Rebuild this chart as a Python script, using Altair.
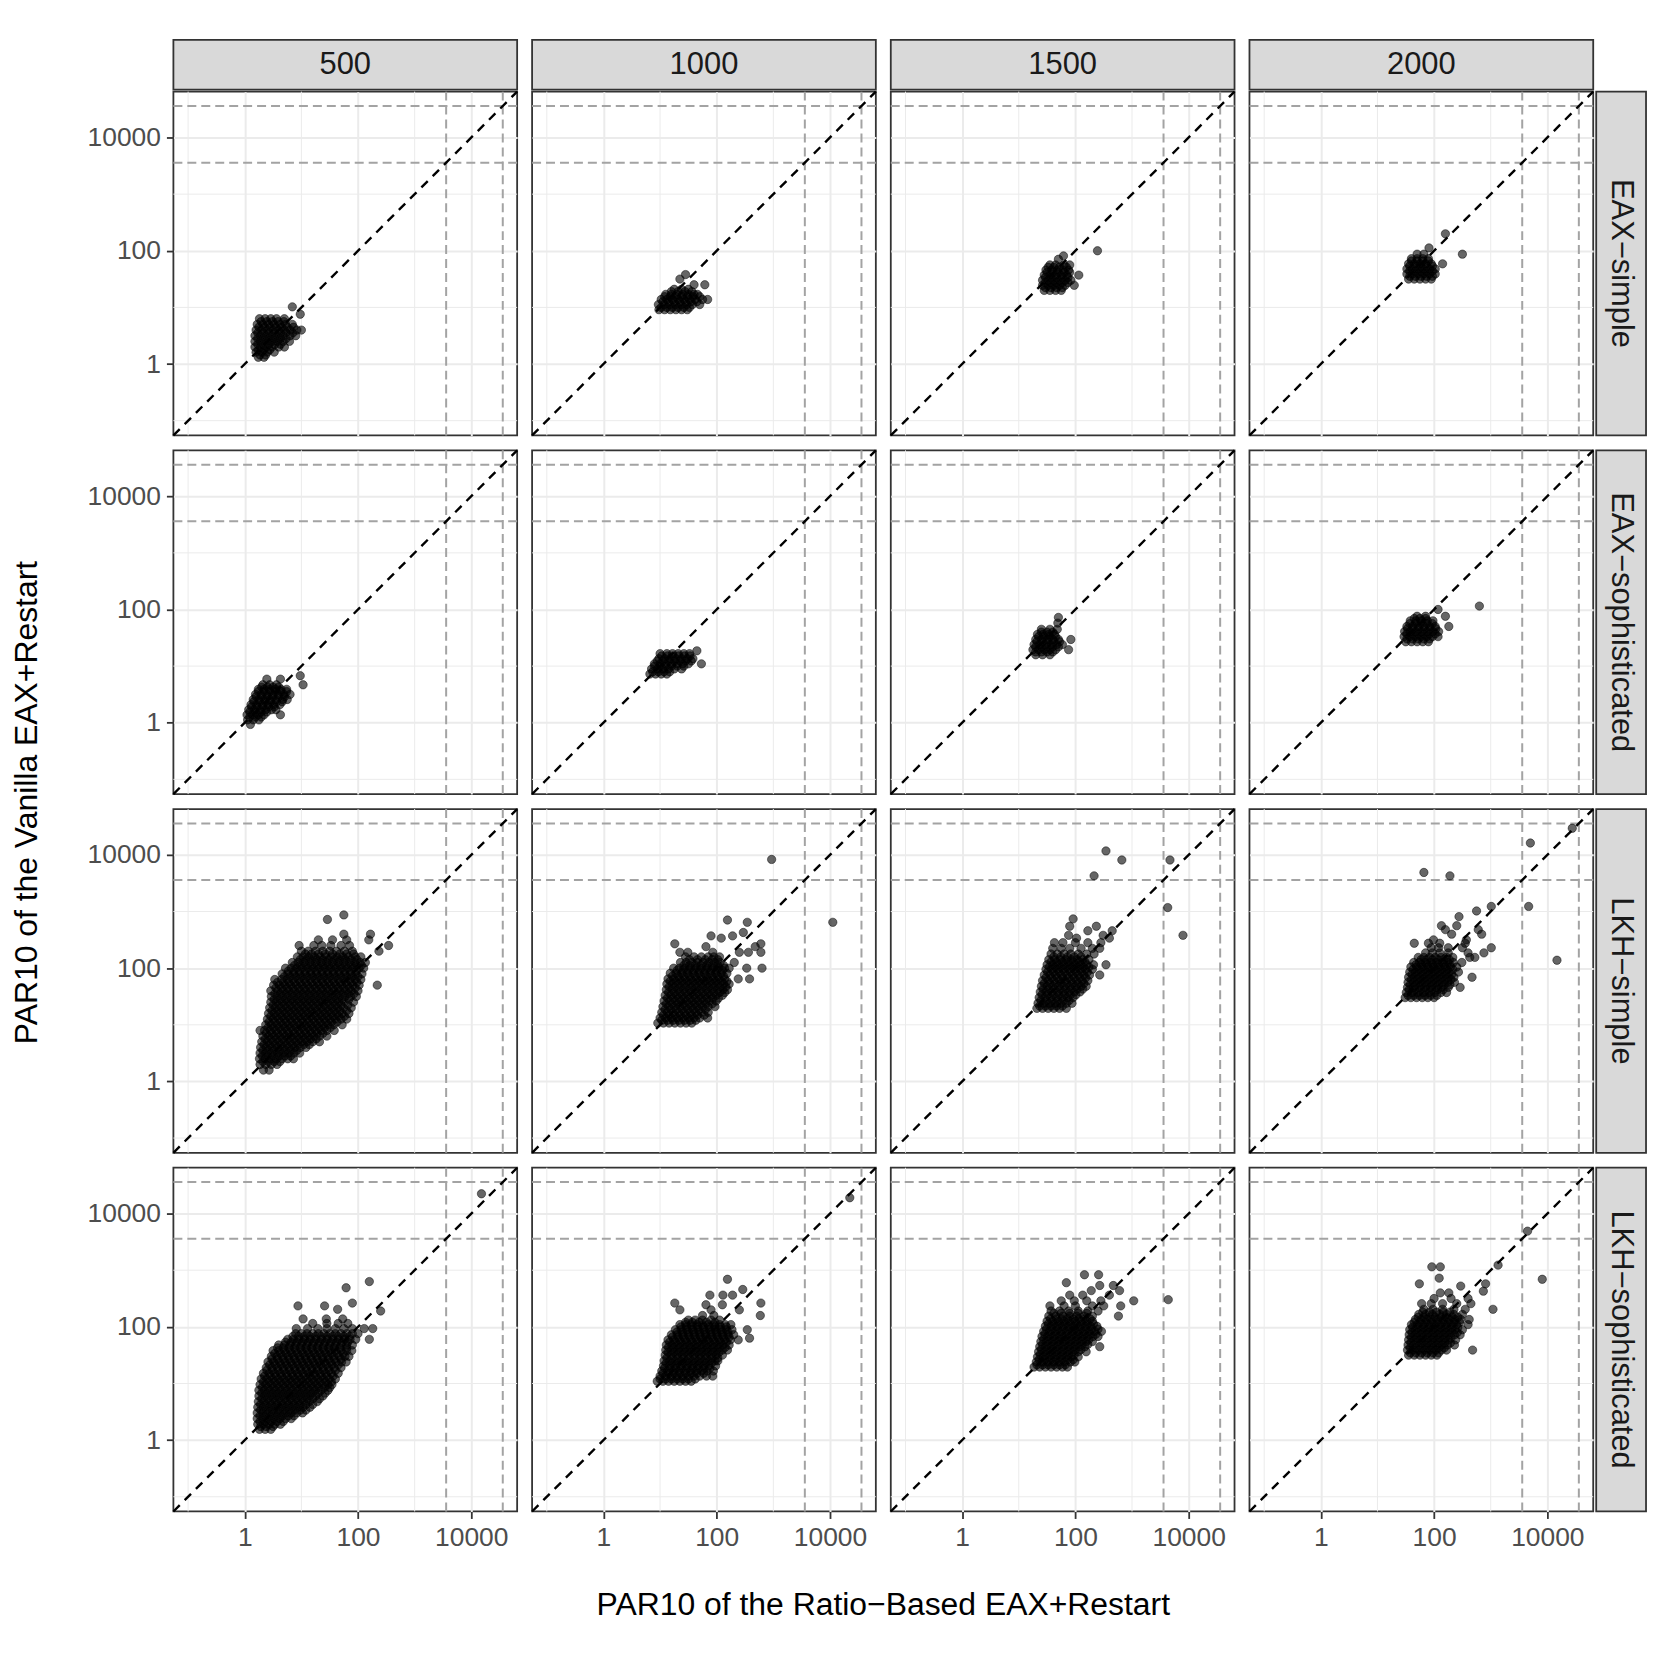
import altair as alt
import pandas as pd

FONT = "Liberation Sans"
SIZES = ["500", "1000", "1500", "2000"]
SOLVERS = ["EAX−simple", "EAX−sophisticated", "LKH−simple", "LKH−sophisticated"]
MAJOR_BREAKS = [1, 100, 10000]
MINOR_BREAKS = [0.1, 10, 1000]
CUTOFFS = [3600, 36000]
LOG_LIMITS = [-1.26, 4.81]
X_TITLE = "PAR10 of the Ratio−Based EAX+Restart"
Y_TITLE = "PAR10 of the Vanilla EAX+Restart"

# Point clouds: (log10 vanilla PAR10, [log10 ratio-based PAR10, ...])
eax_simple_500 = [
    (0.12, [0.24, 0.34]),
    (0.21, [0.2, 0.3, 0.4, 0.52]),
    (0.3, [0.18, 0.28, 0.38, 0.48, 0.6, 0.7]),
    (0.4, [0.18, 0.28, 0.38, 0.48, 0.58, 0.68, 0.79]),
    (0.5, [0.18, 0.28, 0.38, 0.48, 0.58, 0.68, 0.8, 0.9]),
    (0.6, [0.2, 0.3, 0.4, 0.5, 0.6, 0.7, 0.8, 0.92, 1.0]),
    (0.7, [0.22, 0.32, 0.42, 0.52, 0.62, 0.72, 0.84]),
    (0.8, [0.26, 0.36, 0.46, 0.56, 0.7]),
    (0.88, [0.98]),
    (1.01, [0.84]),
    (0.16, [0.27, 0.37]),
    (0.25, [0.24, 0.34, 0.44]),
    (0.35, [0.23, 0.33, 0.43, 0.53, 0.63]),
    (0.45, [0.23, 0.33, 0.43, 0.53, 0.63, 0.73]),
    (0.55, [0.23, 0.33, 0.43, 0.53, 0.63, 0.73, 0.85]),
    (0.65, [0.25, 0.35, 0.45, 0.55, 0.65, 0.75, 0.86]),
    (0.75, [0.29, 0.39, 0.49, 0.59, 0.69]),
]
eax_simple_1000 = [
    (0.96, [0.98, 1.08, 1.18, 1.28, 1.38, 1.48]),
    (1.05, [0.97, 1.07, 1.17, 1.27, 1.37, 1.47, 1.57, 1.7]),
    (1.14, [1.02, 1.12, 1.22, 1.32, 1.42, 1.52, 1.62, 1.75, 1.84]),
    (1.23, [1.1, 1.2, 1.3, 1.4, 1.5, 1.6, 1.66]),
    (1.32, [1.25, 1.38, 1.5]),
    (1.4, [1.6, 1.79]),
    (1.5, [1.35]),
    (1.58, [1.45]),
    (1.0, [1.02, 1.12, 1.22, 1.32, 1.42, 1.52]),
    (1.1, [1.05, 1.15, 1.25, 1.35, 1.45, 1.55, 1.65]),
    (1.19, [1.08, 1.18, 1.28, 1.38, 1.48, 1.58, 1.7]),
    (1.28, [1.2, 1.32, 1.44, 1.56]),
]
eax_simple_1500 = [
    (1.3, [1.45, 1.55, 1.65, 1.75]),
    (1.39, [1.42, 1.52, 1.62, 1.72, 1.82, 1.98]),
    (1.48, [1.42, 1.52, 1.62, 1.72, 1.82, 1.92]),
    (1.57, [1.45, 1.55, 1.65, 1.75, 1.85, 2.06]),
    (1.66, [1.48, 1.58, 1.68, 1.78, 1.88]),
    (1.75, [1.55, 1.65, 1.8, 1.9]),
    (1.85, [1.7]),
    (1.91, [1.79]),
    (2.0, [2.39]),
    (1.35, [1.47, 1.57, 1.67, 1.77]),
    (1.44, [1.47, 1.57, 1.67, 1.77, 1.87]),
    (1.53, [1.47, 1.57, 1.67, 1.77, 1.87]),
    (1.62, [1.5, 1.6, 1.7, 1.8, 1.9]),
    (1.71, [1.52, 1.62, 1.72, 1.84]),
]
eax_simple_2000 = [
    (1.5, [1.55, 1.65, 1.75, 1.85, 1.95]),
    (1.59, [1.52, 1.62, 1.72, 1.82, 1.92, 2.02]),
    (1.68, [1.52, 1.62, 1.72, 1.82, 1.92, 2.02]),
    (1.77, [1.55, 1.65, 1.75, 1.85, 1.95, 2.15]),
    (1.86, [1.6, 1.7, 1.8, 1.9]),
    (1.94, [1.7, 1.82, 2.5]),
    (2.05, [1.91]),
    (2.3, [2.2]),
    (1.55, [1.57, 1.67, 1.77, 1.87, 1.97]),
    (1.64, [1.57, 1.67, 1.77, 1.87, 1.97]),
    (1.73, [1.57, 1.67, 1.77, 1.87, 1.97]),
    (1.82, [1.6, 1.7, 1.8, 1.9]),
]
eax_soph_500 = [
    (-0.03, [0.1]),
    (0.05, [0.05, 0.15, 0.25]),
    (0.14, [0.04, 0.14, 0.24, 0.34, 0.63]),
    (0.23, [0.07, 0.17, 0.27, 0.37, 0.47, 0.55]),
    (0.32, [0.11, 0.21, 0.31, 0.41, 0.51, 0.62]),
    (0.41, [0.15, 0.25, 0.35, 0.45, 0.55, 0.67, 0.75]),
    (0.5, [0.19, 0.29, 0.39, 0.49, 0.59, 0.69, 0.8]),
    (0.59, [0.24, 0.34, 0.44, 0.54, 0.64, 0.74]),
    (0.67, [0.32, 0.44, 0.56, 1.03]),
    (0.77, [0.39, 0.63]),
    (0.83, [0.98]),
    (0.1, [0.09, 0.19, 0.29]),
    (0.19, [0.09, 0.19, 0.29, 0.39]),
    (0.28, [0.12, 0.22, 0.32, 0.42, 0.52]),
    (0.37, [0.16, 0.26, 0.36, 0.46, 0.56, 0.66]),
    (0.46, [0.2, 0.3, 0.4, 0.5, 0.6, 0.7]),
    (0.55, [0.24, 0.34, 0.44, 0.54, 0.64, 0.74]),
    (0.63, [0.3, 0.4, 0.5, 0.6]),
]
eax_soph_1000 = [
    (0.86, [0.82, 0.92, 1.02, 1.12]),
    (0.95, [0.85, 0.95, 1.05, 1.15, 1.25, 1.38]),
    (1.04, [0.9, 1.0, 1.1, 1.2, 1.3, 1.4, 1.5, 1.73]),
    (1.13, [0.98, 1.08, 1.18, 1.28, 1.38, 1.48, 1.58]),
    (1.22, [1.0, 1.12, 1.22, 1.32, 1.42, 1.52]),
    (1.27, [1.65]),
    (0.9, [0.87, 0.97, 1.07, 1.17]),
    (1.0, [0.9, 1.0, 1.1, 1.2, 1.3, 1.42]),
    (1.09, [0.95, 1.05, 1.15, 1.25, 1.35, 1.45, 1.55]),
    (1.18, [1.03, 1.13, 1.23, 1.33, 1.43, 1.53]),
]
eax_soph_1500 = [
    (1.2, [1.3, 1.42, 1.55]),
    (1.29, [1.25, 1.35, 1.45, 1.55, 1.65, 1.88]),
    (1.38, [1.27, 1.37, 1.47, 1.57, 1.67, 1.77]),
    (1.47, [1.3, 1.4, 1.5, 1.6, 1.7, 1.92]),
    (1.56, [1.33, 1.43, 1.53, 1.63]),
    (1.65, [1.4, 1.55, 1.68]),
    (1.76, [1.69]),
    (1.86, [1.7]),
    (1.25, [1.3, 1.4, 1.5, 1.6]),
    (1.34, [1.3, 1.4, 1.5, 1.6, 1.7]),
    (1.43, [1.32, 1.42, 1.52, 1.62, 1.72]),
    (1.52, [1.35, 1.45, 1.55, 1.65]),
    (1.6, [1.4, 1.5, 1.6]),
]
eax_soph_2000 = [
    (1.43, [1.5, 1.6, 1.7, 1.8, 1.9]),
    (1.52, [1.47, 1.57, 1.67, 1.77, 1.87, 1.97, 2.07]),
    (1.61, [1.48, 1.58, 1.68, 1.78, 1.88, 1.98, 2.08]),
    (1.7, [1.52, 1.62, 1.72, 1.82, 1.92, 2.02, 2.26]),
    (1.8, [1.58, 1.68, 1.78, 1.88, 1.98]),
    (1.88, [1.7, 1.85, 2.2]),
    (2.0, [2.07]),
    (2.06, [2.8]),
    (1.48, [1.52, 1.62, 1.72, 1.82, 1.92]),
    (1.57, [1.52, 1.62, 1.72, 1.82, 1.92, 2.02]),
    (1.66, [1.53, 1.63, 1.73, 1.83, 1.93, 2.03]),
    (1.75, [1.57, 1.67, 1.77, 1.87, 1.97]),
    (1.84, [1.65, 1.75, 1.85]),
]
lkh_simple_500 = [
    (0.2, [0.33, 0.43]),
    (0.3, [0.27, 0.37, 0.47, 0.57]),
    (0.4, [0.26, 0.36, 0.46, 0.56, 0.66, 0.76, 0.86]),
    (0.5, [0.27, 0.37, 0.47, 0.57, 0.67, 0.77, 0.87, 0.97]),
    (0.6, [0.28, 0.38, 0.48, 0.58, 0.68, 0.78, 0.88, 0.98, 1.08]),
    (0.7, [0.3, 0.4, 0.5, 0.6, 0.7, 0.8, 0.9, 1.0, 1.1, 1.2, 1.32]),
    (0.8, [0.32, 0.42, 0.52, 0.62, 0.72, 0.82, 0.92, 1.02, 1.12, 1.22, 1.32, 1.45]),
    (0.9, [0.27, 0.35, 0.45, 0.55, 0.65, 0.75, 0.85, 0.95, 1.05, 1.15, 1.25, 1.35, 1.45, 1.58]),
    (1.0, [0.37, 0.47, 0.57, 0.67, 0.77, 0.87, 0.97, 1.07, 1.17, 1.27, 1.37, 1.47, 1.57, 1.72]),
    (1.1, [0.4, 0.5, 0.6, 0.7, 0.8, 0.9, 1.0, 1.1, 1.2, 1.3, 1.4, 1.5, 1.6, 1.7, 1.8]),
    (1.2, [0.42, 0.52, 0.62, 0.72, 0.82, 0.92, 1.02, 1.12, 1.22, 1.32, 1.42, 1.52, 1.62, 1.72, 1.84]),
    (1.3, [0.44, 0.54, 0.64, 0.74, 0.84, 0.94, 1.04, 1.14, 1.24, 1.34, 1.44, 1.54, 1.64, 1.74, 1.88]),
    (1.4, [0.46, 0.56, 0.66, 0.76, 0.86, 0.96, 1.06, 1.16, 1.26, 1.36, 1.46, 1.56, 1.66, 1.76, 1.92]),
    (1.5, [0.47, 0.57, 0.67, 0.77, 0.87, 0.97, 1.07, 1.17, 1.27, 1.37, 1.47, 1.57, 1.67, 1.77, 1.87, 1.97]),
    (1.6, [0.46, 0.58, 0.68, 0.78, 0.88, 0.98, 1.08, 1.18, 1.28, 1.38, 1.48, 1.58, 1.68, 1.78, 1.88, 2.0]),
    (1.7, [0.51, 0.61, 0.71, 0.81, 0.91, 1.01, 1.11, 1.21, 1.31, 1.41, 1.51, 1.61, 1.71, 1.81, 1.91, 2.02, 2.34]),
    (1.8, [0.53, 0.65, 0.75, 0.85, 0.95, 1.05, 1.15, 1.25, 1.35, 1.45, 1.55, 1.65, 1.75, 1.85, 1.95, 2.05]),
    (1.9, [0.66, 0.76, 0.86, 0.96, 1.06, 1.16, 1.26, 1.36, 1.46, 1.56, 1.66, 1.76, 1.86, 1.96, 2.07]),
    (2.0, [0.72, 0.82, 0.92, 1.02, 1.12, 1.22, 1.32, 1.42, 1.52, 1.62, 1.72, 1.82, 1.92, 2.02, 2.1]),
    (2.1, [0.84, 0.94, 1.04, 1.14, 1.24, 1.34, 1.44, 1.54, 1.64, 1.74, 1.84, 1.94, 2.04, 2.13]),
    (2.2, [0.93, 1.03, 1.13, 1.23, 1.33, 1.43, 1.53, 1.63, 1.73, 1.83, 1.95, 2.05]),
    (2.3, [1.0, 1.12, 1.25, 1.38, 1.5, 1.62, 1.76, 1.9, 2.37]),
    (2.4, [0.96, 1.22, 1.36, 1.52, 1.7, 1.85, 2.54]),
    (2.5, [1.3, 1.55, 1.8, 2.19]),
    (2.6, [1.75, 2.22]),
    (2.86, [1.46]),
    (2.94, [1.75]),
    (0.35, [0.32, 0.42, 0.52, 0.62]),
    (0.45, [0.31, 0.41, 0.51, 0.61, 0.71, 0.81]),
    (0.55, [0.32, 0.42, 0.52, 0.62, 0.72, 0.82, 0.92]),
    (0.65, [0.34, 0.44, 0.54, 0.64, 0.74, 0.84, 0.94, 1.04, 1.14]),
    (0.75, [0.36, 0.46, 0.56, 0.66, 0.76, 0.86, 0.96, 1.06, 1.16, 1.26]),
    (0.85, [0.38, 0.48, 0.58, 0.68, 0.78, 0.88, 0.98, 1.08, 1.18, 1.28, 1.38]),
    (0.95, [0.41, 0.51, 0.61, 0.71, 0.81, 0.91, 1.01, 1.11, 1.21, 1.31, 1.41, 1.51]),
    (1.05, [0.43, 0.53, 0.63, 0.73, 0.83, 0.93, 1.03, 1.13, 1.23, 1.33, 1.43, 1.53, 1.63]),
    (1.15, [0.46, 0.56, 0.66, 0.76, 0.86, 0.96, 1.06, 1.16, 1.26, 1.36, 1.46, 1.56, 1.66, 1.76]),
    (1.25, [0.48, 0.58, 0.68, 0.78, 0.88, 0.98, 1.08, 1.18, 1.28, 1.38, 1.48, 1.58, 1.68, 1.8]),
    (1.35, [0.5, 0.6, 0.7, 0.8, 0.9, 1.0, 1.1, 1.2, 1.3, 1.4, 1.5, 1.6, 1.7, 1.82]),
    (1.45, [0.52, 0.62, 0.72, 0.82, 0.92, 1.02, 1.12, 1.22, 1.32, 1.42, 1.52, 1.62, 1.72, 1.84]),
    (1.55, [0.53, 0.63, 0.73, 0.83, 0.93, 1.03, 1.13, 1.23, 1.33, 1.43, 1.53, 1.63, 1.73, 1.83, 1.93]),
    (1.65, [0.55, 0.65, 0.75, 0.85, 0.95, 1.05, 1.15, 1.25, 1.35, 1.45, 1.55, 1.65, 1.75, 1.85, 1.95]),
    (1.75, [0.58, 0.68, 0.78, 0.88, 0.98, 1.08, 1.18, 1.28, 1.38, 1.48, 1.58, 1.68, 1.78, 1.88, 1.98]),
    (1.85, [0.7, 0.8, 0.9, 1.0, 1.1, 1.2, 1.3, 1.4, 1.5, 1.6, 1.7, 1.8, 1.9, 2.0]),
    (1.95, [0.77, 0.87, 0.97, 1.07, 1.17, 1.27, 1.37, 1.47, 1.57, 1.67, 1.77, 1.87, 1.97]),
    (2.05, [0.88, 0.98, 1.08, 1.18, 1.28, 1.38, 1.48, 1.58, 1.68, 1.78, 1.88, 1.98, 2.06]),
    (2.15, [0.98, 1.08, 1.18, 1.28, 1.38, 1.48, 1.58, 1.68, 1.78, 1.88, 1.98]),
    (2.25, [1.07, 1.18, 1.3, 1.42, 1.55, 1.68, 1.8, 1.92]),
]
lkh_simple_1000 = [
    (1.03, [0.96, 1.06, 1.16, 1.26, 1.36, 1.46, 1.56]),
    (1.12, [1.0, 1.1, 1.2, 1.3, 1.4, 1.5, 1.6, 1.7, 1.84]),
    (1.22, [1.03, 1.13, 1.23, 1.33, 1.43, 1.53, 1.63, 1.73, 1.85]),
    (1.32, [1.05, 1.15, 1.25, 1.35, 1.45, 1.55, 1.65, 1.75, 1.85, 1.97]),
    (1.42, [1.07, 1.17, 1.27, 1.37, 1.47, 1.57, 1.67, 1.77, 1.87, 1.99]),
    (1.52, [1.09, 1.19, 1.29, 1.39, 1.49, 1.59, 1.69, 1.79, 1.89, 1.99, 2.1]),
    (1.62, [1.11, 1.21, 1.31, 1.41, 1.51, 1.61, 1.71, 1.81, 1.91, 2.01, 2.11, 2.19]),
    (1.72, [1.12, 1.22, 1.32, 1.42, 1.52, 1.62, 1.72, 1.82, 1.92, 2.02, 2.12, 2.22]),
    (1.81, [1.14, 1.24, 1.34, 1.44, 1.54, 1.64, 1.74, 1.84, 1.94, 2.04, 2.14, 2.38, 2.58]),
    (1.91, [1.18, 1.28, 1.38, 1.48, 1.58, 1.68, 1.78, 1.88, 1.98, 2.08, 2.18]),
    (2.0, [1.24, 1.34, 1.44, 1.54, 1.64, 1.74, 1.84, 1.94, 2.04, 2.14, 2.22, 2.53, 2.8]),
    (2.1, [1.36, 1.46, 1.56, 1.66, 1.76, 1.86, 1.96, 2.06, 2.31]),
    (2.2, [1.45, 1.6, 1.73, 1.85, 1.95, 2.05]),
    (2.28, [1.35, 1.49, 1.93, 2.4, 2.56, 2.78]),
    (2.38, [1.81, 2.68]),
    (2.43, [1.26, 2.78]),
    (2.53, [2.08]),
    (2.57, [1.9, 2.28]),
    (2.63, [2.47]),
    (2.81, [2.54, 4.05]),
    (2.85, [2.19]),
    (3.92, [2.97]),
    (1.08, [1.03, 1.13, 1.23, 1.33, 1.43, 1.53, 1.63]),
    (1.17, [1.06, 1.16, 1.26, 1.36, 1.46, 1.56, 1.66, 1.78]),
    (1.27, [1.09, 1.19, 1.29, 1.39, 1.49, 1.59, 1.69, 1.8]),
    (1.37, [1.11, 1.21, 1.31, 1.41, 1.51, 1.61, 1.71, 1.81, 1.92]),
    (1.47, [1.13, 1.23, 1.33, 1.43, 1.53, 1.63, 1.73, 1.83, 1.93, 2.03]),
    (1.57, [1.15, 1.25, 1.35, 1.45, 1.55, 1.65, 1.75, 1.85, 1.95, 2.05, 2.14]),
    (1.67, [1.16, 1.26, 1.36, 1.46, 1.56, 1.66, 1.76, 1.86, 1.96, 2.06, 2.16]),
    (1.77, [1.18, 1.28, 1.38, 1.48, 1.58, 1.68, 1.78, 1.88, 1.98, 2.08, 2.18]),
    (1.86, [1.22, 1.32, 1.42, 1.52, 1.62, 1.72, 1.82, 1.92, 2.02, 2.12]),
    (1.96, [1.3, 1.4, 1.5, 1.6, 1.7, 1.8, 1.9, 2.0, 2.1]),
    (2.05, [1.42, 1.52, 1.62, 1.72, 1.82, 1.92, 2.02, 2.12]),
    (2.15, [1.52, 1.66, 1.8, 1.92, 2.02]),
]
lkh_simple_1500 = [
    (1.29, [1.32, 1.42, 1.52, 1.62, 1.72, 1.84]),
    (1.38, [1.34, 1.44, 1.54, 1.64, 1.74, 1.84, 1.94]),
    (1.48, [1.36, 1.46, 1.56, 1.66, 1.76, 1.86, 1.96]),
    (1.58, [1.38, 1.48, 1.58, 1.68, 1.78, 1.88, 1.98, 2.08]),
    (1.68, [1.4, 1.5, 1.6, 1.7, 1.8, 1.9, 2.0, 2.1, 2.19]),
    (1.78, [1.42, 1.52, 1.62, 1.72, 1.82, 1.92, 2.02, 2.12, 2.22]),
    (1.88, [1.45, 1.55, 1.65, 1.75, 1.85, 1.95, 2.05, 2.15, 2.25, 2.43]),
    (1.98, [1.48, 1.58, 1.68, 1.78, 1.88, 1.98, 2.08, 2.18, 2.3]),
    (2.06, [1.5, 1.6, 1.7, 1.8, 1.9, 2.0, 2.1, 2.2, 2.32, 2.54]),
    (2.15, [1.53, 1.63, 1.73, 1.83, 1.93, 2.03, 2.13, 2.24]),
    (2.25, [1.57, 1.68, 1.8, 1.92, 2.05, 2.2, 2.33]),
    (2.35, [1.6, 1.75, 1.9, 2.1, 2.3, 2.43]),
    (2.45, [1.63, 1.78, 2.0, 2.22, 2.45]),
    (2.53, [2.02, 2.6]),
    (2.58, [1.88, 2.49, 3.9]),
    (2.66, [2.22, 2.65]),
    (2.74, [1.9, 2.37]),
    (2.87, [1.96]),
    (3.07, [3.63]),
    (3.63, [2.33]),
    (3.91, [2.82, 3.67]),
    (4.07, [2.54]),
    (1.33, [1.37, 1.47, 1.57, 1.67, 1.77]),
    (1.43, [1.39, 1.49, 1.59, 1.69, 1.79, 1.89]),
    (1.53, [1.41, 1.51, 1.61, 1.71, 1.81, 1.91, 2.01]),
    (1.63, [1.43, 1.53, 1.63, 1.73, 1.83, 1.93, 2.03, 2.13]),
    (1.73, [1.45, 1.55, 1.65, 1.75, 1.85, 1.95, 2.05, 2.15]),
    (1.83, [1.48, 1.58, 1.68, 1.78, 1.88, 1.98, 2.08, 2.18]),
    (1.93, [1.51, 1.61, 1.71, 1.81, 1.91, 2.01, 2.11, 2.21]),
    (2.02, [1.54, 1.64, 1.74, 1.84, 1.94, 2.04, 2.14, 2.24]),
    (2.11, [1.57, 1.67, 1.77, 1.87, 1.97, 2.07, 2.17]),
    (2.2, [1.62, 1.74, 1.86, 1.98, 2.1]),
]
lkh_simple_2000 = [
    (1.48, [1.49, 1.59, 1.69, 1.79, 1.89, 2.0]),
    (1.57, [1.51, 1.61, 1.71, 1.81, 1.91, 2.01, 2.12, 2.22]),
    (1.66, [1.53, 1.63, 1.73, 1.83, 1.93, 2.03, 2.13, 2.25, 2.46]),
    (1.75, [1.54, 1.64, 1.74, 1.84, 1.94, 2.04, 2.14, 2.24, 2.36]),
    (1.84, [1.55, 1.65, 1.75, 1.85, 1.95, 2.05, 2.15, 2.25, 2.35, 2.67]),
    (1.93, [1.57, 1.67, 1.77, 1.87, 1.97, 2.07, 2.17, 2.27, 2.43]),
    (2.02, [1.59, 1.69, 1.79, 1.89, 1.99, 2.09, 2.19, 2.29, 2.4]),
    (2.1, [1.64, 1.74, 1.84, 1.94, 2.04, 2.14, 2.24, 2.34, 2.49]),
    (2.14, [4.17]),
    (2.19, [1.72, 1.82, 1.92, 2.02, 2.12, 2.22, 2.33, 2.63, 2.72]),
    (2.27, [1.85, 1.97, 2.1, 2.25, 2.6, 2.88]),
    (2.36, [1.95, 2.08, 2.25, 2.5, 3.01]),
    (2.44, [1.65, 1.9, 2.1, 2.55]),
    (2.5, [1.99, 2.57]),
    (2.6, [2.31, 2.84]),
    (2.68, [2.2, 2.78]),
    (2.75, [2.13, 2.4]),
    (2.91, [2.44]),
    (3.01, [2.75]),
    (3.09, [3.01, 3.67]),
    (3.63, [2.28]),
    (3.69, [1.82]),
    (4.21, [3.7]),
    (4.47, [4.44]),
    (1.52, [1.54, 1.64, 1.74, 1.84, 1.94, 2.05]),
    (1.62, [1.56, 1.66, 1.76, 1.86, 1.96, 2.06, 2.16]),
    (1.71, [1.58, 1.68, 1.78, 1.88, 1.98, 2.08, 2.18, 2.28]),
    (1.8, [1.6, 1.7, 1.8, 1.9, 2.0, 2.1, 2.2, 2.3]),
    (1.89, [1.61, 1.71, 1.81, 1.91, 2.01, 2.11, 2.21, 2.31]),
    (1.98, [1.63, 1.73, 1.83, 1.93, 2.03, 2.13, 2.23, 2.33]),
    (2.06, [1.68, 1.78, 1.88, 1.98, 2.08, 2.18, 2.28]),
    (2.15, [1.77, 1.87, 1.97, 2.07, 2.17, 2.27]),
]
lkh_soph_500 = [
    (0.19, [0.26, 0.36, 0.46]),
    (0.28, [0.23, 0.33, 0.43, 0.53, 0.63]),
    (0.38, [0.22, 0.32, 0.42, 0.52, 0.62, 0.72, 0.82]),
    (0.48, [0.22, 0.32, 0.42, 0.52, 0.62, 0.72, 0.82, 0.92, 1.02]),
    (0.58, [0.23, 0.33, 0.43, 0.53, 0.63, 0.73, 0.83, 0.93, 1.03, 1.15]),
    (0.68, [0.24, 0.34, 0.44, 0.54, 0.64, 0.74, 0.84, 0.94, 1.04, 1.14, 1.28]),
    (0.78, [0.25, 0.35, 0.45, 0.55, 0.65, 0.75, 0.85, 0.95, 1.05, 1.15, 1.25, 1.38]),
    (0.88, [0.25, 0.35, 0.45, 0.55, 0.65, 0.75, 0.85, 0.95, 1.05, 1.15, 1.25, 1.35, 1.47]),
    (0.98, [0.27, 0.37, 0.47, 0.57, 0.67, 0.77, 0.87, 0.97, 1.07, 1.17, 1.27, 1.37, 1.47, 1.54]),
    (1.08, [0.29, 0.39, 0.49, 0.59, 0.69, 0.79, 0.89, 0.99, 1.09, 1.19, 1.29, 1.39, 1.49, 1.6]),
    (1.18, [0.33, 0.43, 0.53, 0.63, 0.73, 0.83, 0.93, 1.03, 1.13, 1.23, 1.33, 1.43, 1.53, 1.65]),
    (1.28, [0.38, 0.48, 0.58, 0.68, 0.78, 0.88, 0.98, 1.08, 1.18, 1.28, 1.38, 1.48, 1.58, 1.7]),
    (1.38, [0.41, 0.51, 0.61, 0.71, 0.81, 0.91, 1.01, 1.11, 1.21, 1.31, 1.41, 1.51, 1.61, 1.71, 1.79]),
    (1.48, [0.47, 0.57, 0.67, 0.77, 0.87, 0.97, 1.07, 1.17, 1.27, 1.37, 1.47, 1.57, 1.67, 1.77, 1.84]),
    (1.58, [0.5, 0.6, 0.7, 0.8, 0.9, 1.0, 1.1, 1.2, 1.3, 1.4, 1.5, 1.6, 1.7, 1.8, 1.89]),
    (1.68, [0.6, 0.7, 0.8, 0.9, 1.0, 1.1, 1.2, 1.3, 1.4, 1.5, 1.6, 1.7, 1.8, 1.9]),
    (1.78, [0.76, 0.86, 0.96, 1.06, 1.16, 1.26, 1.36, 1.46, 1.56, 1.66, 1.76, 1.86, 1.96, 2.2]),
    (1.88, [0.9, 1.0, 1.1, 1.2, 1.3, 1.4, 1.5, 1.6, 1.7, 1.8, 1.9, 2.0]),
    (1.97, [0.91, 1.11, 1.29, 1.45, 1.6, 1.75, 1.9, 2.11, 2.26]),
    (2.06, [1.2, 1.45, 1.65, 1.82]),
    (2.14, [1.03, 1.44, 1.73]),
    (2.28, [2.4]),
    (2.31, [1.64]),
    (2.37, [0.94, 1.41]),
    (2.42, [1.9]),
    (2.69, [1.79]),
    (2.8, [2.2]),
    (4.35, [4.18]),
    (0.24, [0.28, 0.38, 0.5]),
    (0.33, [0.27, 0.37, 0.47, 0.57, 0.68]),
    (0.43, [0.27, 0.37, 0.47, 0.57, 0.67, 0.77, 0.87]),
    (0.53, [0.28, 0.38, 0.48, 0.58, 0.68, 0.78, 0.88, 0.98, 1.08]),
    (0.63, [0.28, 0.38, 0.48, 0.58, 0.68, 0.78, 0.88, 0.98, 1.08, 1.2]),
    (0.73, [0.3, 0.4, 0.5, 0.6, 0.7, 0.8, 0.9, 1.0, 1.1, 1.2, 1.32]),
    (0.83, [0.3, 0.4, 0.5, 0.6, 0.7, 0.8, 0.9, 1.0, 1.1, 1.2, 1.3, 1.42]),
    (0.93, [0.31, 0.41, 0.51, 0.61, 0.71, 0.81, 0.91, 1.01, 1.11, 1.21, 1.31, 1.41, 1.5]),
    (1.03, [0.33, 0.43, 0.53, 0.63, 0.73, 0.83, 0.93, 1.03, 1.13, 1.23, 1.33, 1.43, 1.53]),
    (1.13, [0.35, 0.45, 0.55, 0.65, 0.75, 0.85, 0.95, 1.05, 1.15, 1.25, 1.35, 1.45, 1.56]),
    (1.23, [0.39, 0.49, 0.59, 0.69, 0.79, 0.89, 0.99, 1.09, 1.19, 1.29, 1.39, 1.49, 1.6]),
    (1.33, [0.44, 0.54, 0.64, 0.74, 0.84, 0.94, 1.04, 1.14, 1.24, 1.34, 1.44, 1.54, 1.65]),
    (1.43, [0.48, 0.58, 0.68, 0.78, 0.88, 0.98, 1.08, 1.18, 1.28, 1.38, 1.48, 1.58, 1.7]),
    (1.53, [0.53, 0.63, 0.73, 0.83, 0.93, 1.03, 1.13, 1.23, 1.33, 1.43, 1.53, 1.63, 1.74]),
    (1.63, [0.58, 0.68, 0.78, 0.88, 0.98, 1.08, 1.18, 1.28, 1.38, 1.48, 1.58, 1.68, 1.8]),
    (1.73, [0.72, 0.82, 0.92, 1.02, 1.12, 1.22, 1.32, 1.42, 1.52, 1.62, 1.72, 1.82]),
    (1.83, [0.85, 0.95, 1.05, 1.15, 1.25, 1.35, 1.45, 1.55, 1.65, 1.75, 1.85]),
]
lkh_soph_1000 = [
    (1.04, [0.95, 1.05, 1.15, 1.25, 1.35, 1.45, 1.55]),
    (1.13, [1.0, 1.1, 1.2, 1.3, 1.4, 1.5, 1.6, 1.7, 1.82, 1.93]),
    (1.22, [1.03, 1.13, 1.23, 1.33, 1.43, 1.53, 1.63, 1.73, 1.83, 1.94]),
    (1.31, [1.06, 1.16, 1.26, 1.36, 1.46, 1.56, 1.66, 1.76, 1.86, 1.98]),
    (1.4, [1.07, 1.17, 1.27, 1.37, 1.47, 1.57, 1.67, 1.77, 1.87, 1.97, 2.02]),
    (1.5, [1.09, 1.19, 1.29, 1.39, 1.49, 1.59, 1.69, 1.79, 1.89, 1.99, 2.1]),
    (1.59, [1.1, 1.2, 1.3, 1.4, 1.5, 1.6, 1.7, 1.8, 1.9, 2.0, 2.1, 2.19]),
    (1.68, [1.11, 1.21, 1.31, 1.41, 1.51, 1.61, 1.71, 1.81, 1.91, 2.01, 2.11, 2.22]),
    (1.77, [1.14, 1.24, 1.34, 1.44, 1.54, 1.64, 1.74, 1.84, 1.94, 2.04, 2.14, 2.24, 2.38]),
    (1.8, [2.58]),
    (1.86, [1.2, 1.3, 1.4, 1.5, 1.6, 1.7, 1.8, 1.9, 2.0, 2.1, 2.2, 2.3]),
    (1.95, [1.27, 1.37, 1.47, 1.57, 1.67, 1.77, 1.87, 1.97, 2.07, 2.17, 2.27, 2.54]),
    (2.04, [1.35, 1.45, 1.55, 1.65, 1.75, 1.85, 1.95, 2.05, 2.15, 2.25]),
    (2.12, [1.5, 1.62, 1.75, 1.9, 2.05]),
    (2.2, [1.75, 1.95, 2.77]),
    (2.3, [1.35, 1.9, 2.4]),
    (2.39, [1.81, 2.1]),
    (2.42, [1.26, 2.78]),
    (2.56, [1.88, 2.11, 2.28]),
    (2.66, [2.46]),
    (2.84, [2.19]),
    (4.28, [4.35]),
    (1.08, [1.0, 1.1, 1.2, 1.3, 1.4, 1.5, 1.62]),
    (1.18, [1.05, 1.15, 1.25, 1.35, 1.45, 1.55, 1.65, 1.77]),
    (1.27, [1.08, 1.18, 1.28, 1.38, 1.48, 1.58, 1.68, 1.78, 1.88]),
    (1.36, [1.11, 1.21, 1.31, 1.41, 1.51, 1.61, 1.71, 1.81, 1.91]),
    (1.45, [1.12, 1.22, 1.32, 1.42, 1.52, 1.62, 1.72, 1.82, 1.92, 2.02]),
    (1.55, [1.14, 1.24, 1.34, 1.44, 1.54, 1.64, 1.74, 1.84, 1.94, 2.04]),
    (1.64, [1.15, 1.25, 1.35, 1.45, 1.55, 1.65, 1.75, 1.85, 1.95, 2.05, 2.15]),
    (1.73, [1.17, 1.27, 1.37, 1.47, 1.57, 1.67, 1.77, 1.87, 1.97, 2.07, 2.17]),
    (1.82, [1.22, 1.32, 1.42, 1.52, 1.62, 1.72, 1.82, 1.92, 2.02, 2.12, 2.22]),
    (1.91, [1.3, 1.4, 1.5, 1.6, 1.7, 1.8, 1.9, 2.0, 2.1, 2.2]),
    (2.0, [1.37, 1.47, 1.57, 1.67, 1.77, 1.87, 1.97, 2.07, 2.17]),
    (2.08, [1.45, 1.57, 1.69, 1.82, 1.97]),
]
lkh_soph_1500 = [
    (1.29, [1.27, 1.37, 1.47, 1.57, 1.67, 1.77, 1.86]),
    (1.38, [1.31, 1.41, 1.51, 1.61, 1.71, 1.81, 1.91, 1.99]),
    (1.47, [1.33, 1.43, 1.53, 1.63, 1.73, 1.83, 1.93, 2.05]),
    (1.56, [1.35, 1.45, 1.55, 1.65, 1.75, 1.85, 1.95, 2.05, 2.19]),
    (1.65, [1.37, 1.47, 1.57, 1.67, 1.77, 1.87, 1.97, 2.07, 2.17, 2.43]),
    (1.74, [1.39, 1.49, 1.59, 1.69, 1.79, 1.89, 1.99, 2.09, 2.19, 2.3]),
    (1.83, [1.41, 1.51, 1.61, 1.71, 1.81, 1.91, 2.01, 2.11, 2.21, 2.31, 2.4]),
    (1.92, [1.44, 1.54, 1.64, 1.74, 1.84, 1.94, 2.04, 2.14, 2.24, 2.34, 2.46]),
    (2.01, [1.47, 1.57, 1.67, 1.77, 1.87, 1.97, 2.07, 2.17, 2.27, 2.38]),
    (2.1, [1.5, 1.6, 1.7, 1.8, 1.9, 2.0, 2.1, 2.2, 2.3]),
    (2.19, [1.53, 1.65, 1.78, 1.9, 2.02, 2.15, 2.3, 2.76]),
    (2.28, [1.57, 1.72, 1.88, 2.05, 2.22, 2.4]),
    (2.37, [1.55, 1.8, 2.0, 2.3, 2.5, 2.8]),
    (2.46, [1.75, 1.98, 2.2, 2.45, 3.03]),
    (2.48, [3.64]),
    (2.56, [1.9, 2.13, 2.6]),
    (2.64, [2.28, 2.78]),
    (2.73, [2.43, 2.67]),
    (2.78, [1.84]),
    (2.92, [2.16, 2.41]),
    (1.33, [1.32, 1.42, 1.52, 1.62, 1.72, 1.82]),
    (1.42, [1.36, 1.46, 1.56, 1.66, 1.76, 1.86, 1.96]),
    (1.51, [1.38, 1.48, 1.58, 1.68, 1.78, 1.88, 1.98]),
    (1.6, [1.4, 1.5, 1.6, 1.7, 1.8, 1.9, 2.0, 2.1]),
    (1.69, [1.42, 1.52, 1.62, 1.72, 1.82, 1.92, 2.02, 2.12, 2.22]),
    (1.78, [1.44, 1.54, 1.64, 1.74, 1.84, 1.94, 2.04, 2.14, 2.24]),
    (1.87, [1.46, 1.56, 1.66, 1.76, 1.86, 1.96, 2.06, 2.16, 2.26, 2.36]),
    (1.96, [1.49, 1.59, 1.69, 1.79, 1.89, 1.99, 2.09, 2.19, 2.29, 2.4]),
    (2.05, [1.52, 1.62, 1.72, 1.82, 1.92, 2.02, 2.12, 2.22, 2.32]),
    (2.14, [1.56, 1.66, 1.76, 1.86, 1.96, 2.06, 2.16, 2.26]),
    (2.24, [1.62, 1.75, 1.9, 2.05, 2.2]),
]
lkh_soph_2000 = [
    (1.5, [1.55, 1.65, 1.75, 1.85, 1.95, 2.05]),
    (1.59, [1.53, 1.63, 1.73, 1.83, 1.93, 2.03, 2.13, 2.22, 2.68]),
    (1.68, [1.54, 1.64, 1.74, 1.84, 1.94, 2.04, 2.14, 2.24, 2.36]),
    (1.77, [1.55, 1.65, 1.75, 1.85, 1.95, 2.05, 2.15, 2.25, 2.38]),
    (1.86, [1.56, 1.66, 1.76, 1.86, 1.96, 2.06, 2.16, 2.26, 2.36, 2.46]),
    (1.95, [1.57, 1.67, 1.77, 1.87, 1.97, 2.07, 2.17, 2.27, 2.37, 2.5]),
    (2.04, [1.6, 1.7, 1.8, 1.9, 2.0, 2.1, 2.2, 2.3, 2.4, 2.6]),
    (2.13, [1.67, 1.77, 1.87, 1.97, 2.07, 2.17, 2.27, 2.37, 2.47, 2.62]),
    (2.22, [1.73, 1.85, 1.97, 2.1, 2.22, 2.35, 2.5]),
    (2.31, [1.82, 1.98, 2.15, 2.35, 2.55, 3.04]),
    (2.41, [1.78, 1.95, 2.15, 2.4, 2.65]),
    (2.5, [2.0, 2.3, 2.6]),
    (2.6, [2.11, 2.26]),
    (2.63, [2.87]),
    (2.72, [2.47]),
    (2.76, [1.74, 2.91]),
    (2.84, [3.91]),
    (2.86, [2.09]),
    (3.06, [1.96, 2.11]),
    (3.09, [3.13]),
    (3.69, [3.65]),
    (1.54, [1.58, 1.68, 1.78, 1.88, 1.98, 2.08]),
    (1.63, [1.58, 1.68, 1.78, 1.88, 1.98, 2.08, 2.18]),
    (1.72, [1.59, 1.69, 1.79, 1.89, 1.99, 2.09, 2.19, 2.29]),
    (1.81, [1.6, 1.7, 1.8, 1.9, 2.0, 2.1, 2.2, 2.3]),
    (1.9, [1.61, 1.71, 1.81, 1.91, 2.01, 2.11, 2.21, 2.31, 2.41]),
    (1.99, [1.62, 1.72, 1.82, 1.92, 2.02, 2.12, 2.22, 2.32, 2.42]),
    (2.08, [1.65, 1.75, 1.85, 1.95, 2.05, 2.15, 2.25, 2.35, 2.45]),
    (2.17, [1.72, 1.82, 1.92, 2.02, 2.12, 2.22, 2.32, 2.42]),
    (2.26, [1.8, 1.92, 2.04, 2.16, 2.28]),
]

PANELS = [
    [eax_simple_500, eax_simple_1000, eax_simple_1500, eax_simple_2000],
    [eax_soph_500, eax_soph_1000, eax_soph_1500, eax_soph_2000],
    [lkh_simple_500, lkh_simple_1000, lkh_simple_1500, lkh_simple_2000],
    [lkh_soph_500, lkh_soph_1000, lkh_soph_1500, lkh_soph_2000],
]

W = 345
GAP = 15
STRIP = 50
TOTAL = 4 * W + 3 * GAP
BORDER = "#333333"

LO = 10 ** LOG_LIMITS[0]
HI = 10 ** LOG_LIMITS[1]


def make_panel(rows, r, c):
    pts = pd.DataFrame(
        [{"x": 10 ** lx, "y": 10 ** ly} for ly, xs_ in rows for lx in xs_]
    )
    xs = alt.Scale(type="log", domain=[LO, HI], nice=False)
    ys = alt.Scale(type="log", domain=[LO, HI], nice=False)

    xkw = dict(values=MAJOR_BREAKS, format="d", labels=(r == 3), ticks=(r == 3),
               labelFlush=False, grid=True)
    if r == 3 and c == 1:
        xkw.update(title=X_TITLE, titleX=352, titleY=93, titleAlign="center",
                   titleBaseline="middle", titleAngle=0)
    else:
        xkw["title"] = ""
    ykw = dict(values=MAJOR_BREAKS, format="d", labels=(c == 0), ticks=(c == 0),
               labelFlush=False, grid=True)
    if r == 1 and c == 0:
        ykw.update(title=Y_TITLE, titleX=-147, titleY=353, titleAlign="center",
                   titleBaseline="middle", titleAngle=270)
    else:
        ykw["title"] = ""
    xaxis = alt.Axis(**xkw)
    yaxis = alt.Axis(**ykw)

    minor = pd.DataFrame({"v": MINOR_BREAKS})
    cut = pd.DataFrame({"v": CUTOFFS})
    diag = pd.DataFrame({"x": [LO], "y": [LO], "x2": [HI], "y2": [HI]})

    layers = [
        alt.Chart(minor).mark_rule(color="#EBEBEB", strokeWidth=1).encode(
            x=alt.X("v:Q", scale=xs, axis=xaxis)),
        alt.Chart(minor).mark_rule(color="#EBEBEB", strokeWidth=1).encode(
            y=alt.Y("v:Q", scale=ys, axis=yaxis)),
        alt.Chart(cut).mark_rule(color="#A3A3A3", strokeWidth=2, strokeDash=[9, 5]).encode(
            x=alt.X("v:Q", scale=xs, axis=xaxis)),
        alt.Chart(cut).mark_rule(color="#A3A3A3", strokeWidth=2, strokeDash=[9, 5]).encode(
            y=alt.Y("v:Q", scale=ys, axis=yaxis)),
        alt.Chart(diag).mark_rule(color="black", strokeWidth=2.4, strokeDash=[9, 7]).encode(
            x=alt.X("x:Q", scale=xs, axis=xaxis),
            y=alt.Y("y:Q", scale=ys, axis=yaxis),
            x2="x2:Q", y2="y2:Q"),
        alt.Chart(pts).mark_circle(size=70, fill="black", fillOpacity=0.6,
                                   stroke="black", strokeOpacity=0.6,
                                   strokeWidth=0.8).encode(
            x=alt.X("x:Q", scale=xs, axis=xaxis),
            y=alt.Y("y:Q", scale=ys, axis=yaxis)),
    ]
    return alt.layer(*layers).properties(
        width=W, height=W,
        view=alt.ViewBackground(stroke=BORDER, strokeWidth=1.8),
    )


panels = [make_panel(PANELS[r][c], r, c) for r in range(4) for c in range(4)]
grid = alt.concat(*panels, columns=4, spacing=GAP, bounds="flush")

band_pad = GAP / (W + GAP)

col_df = pd.DataFrame({"size": SIZES})
col_scale = alt.Scale(domain=SIZES, paddingInner=band_pad, paddingOuter=0)
col_strip = alt.layer(
    alt.Chart(col_df).mark_rect(fill="#D9D9D9", stroke=BORDER, strokeWidth=1.8).encode(
        x=alt.X("size:N", scale=col_scale, axis=None)),
    alt.Chart(col_df).mark_text(font=FONT, fontSize=31, color="#1A1A1A").encode(
        x=alt.X("size:N", scale=col_scale, axis=None), text="size:N"),
).properties(width=TOTAL, height=STRIP,
             view=alt.ViewBackground(stroke="transparent"))

row_df = pd.DataFrame({"solver": SOLVERS})
row_scale = alt.Scale(domain=SOLVERS, paddingInner=band_pad, paddingOuter=0)
row_strip = alt.layer(
    alt.Chart(row_df).mark_rect(fill="#D9D9D9", stroke=BORDER, strokeWidth=1.8).encode(
        y=alt.Y("solver:N", scale=row_scale, axis=None)),
    alt.Chart(row_df).mark_text(font=FONT, fontSize=31, color="#1A1A1A", angle=90).encode(
        y=alt.Y("solver:N", scale=row_scale, axis=None), text="solver:N"),
).properties(width=STRIP, height=TOTAL,
             view=alt.ViewBackground(stroke="transparent"))

body = alt.hconcat(grid, row_strip, spacing=-2)
chart = alt.vconcat(col_strip, body, spacing=-3).properties(
    padding={"left": 2, "top": 27, "right": 5, "bottom": 5},
    background="white",
).configure_axis(
    domain=False,
    grid=True,
    gridColor="#EBEBEB",
    gridWidth=2,
    labelFont=FONT,
    labelFontSize=26.5,
    labelColor="#4D4D4D",
    tickColor=BORDER,
    tickWidth=1.8,
    tickSize=7,
    labelPadding=6,
    titleFont=FONT,
    titleFontSize=32,
    titleColor="black",
    titleFontWeight="normal",
).configure_view(stroke=BORDER)

chart.save("out.html", embed_options={"renderer": "svg", "actions": False})
